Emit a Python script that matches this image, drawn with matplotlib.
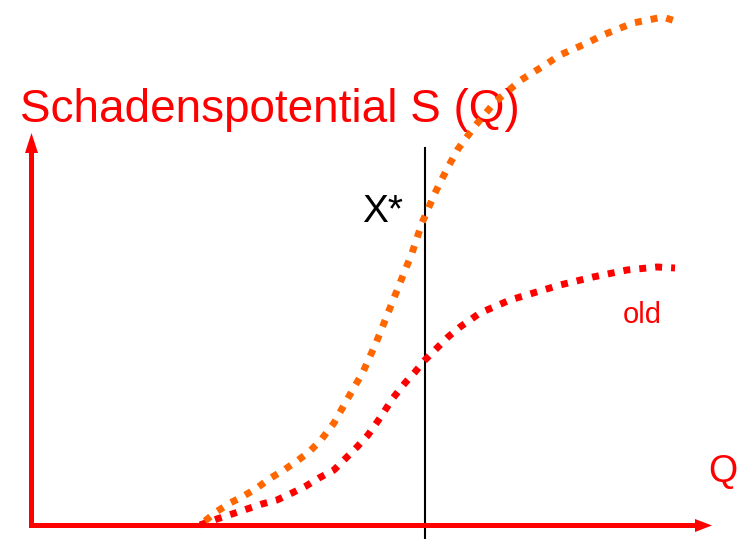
import matplotlib
matplotlib.use('Agg')
from matplotlib import pyplot as plt

plt.rcParams['font.family'] = ['Liberation Sans', 'DejaVu Sans']

### Daten (Q = horizontale Position, S = Hoehe ueber dem Bildrand unten)
q_new = [205, 216, 230, 242, 257, 269, 284, 297, 309, 321, 334, 348, 363, 376, 388, 400,
         412, 422, 435, 448, 458, 475, 495, 521, 545, 560, 585, 603, 633, 663, 678]
s_new = [18, 27, 36, 42, 51, 60, 69, 78, 87, 99, 116, 141, 167, 196, 226, 256,
         286, 316, 346, 372, 390, 413, 437, 459, 474, 484, 495, 504, 516, 522, 517]

q_old = [200, 217, 232, 247, 262, 277, 292, 306, 319, 334, 344, 357, 368, 380, 393, 405,
         415, 425, 437, 448, 460, 480, 510, 540, 560, 593, 627, 657, 675]
s_old = [14, 20, 25, 30, 35, 39, 46, 53, 61, 69, 79, 92, 104, 121, 141, 156,
         167, 179, 191, 202, 212, 226, 239, 248, 254, 262, 269, 272, 271]

x_star = 425          ### Position der senkrechten Linie X*
x_star_top = 391
axis_origin = (31.5, 13.5)
q_end = 712           ### Pfeilspitze Q-Achse
s_end = 406           ### Pfeilspitze S-Achse

RED = '#FF0000'
ORANGE = '#FF6600'

fig = plt.figure(figsize=(7.4, 5.39), dpi=100)
ax = fig.add_axes([0, 0, 1, 1])
ax.set_xlim(0, 740)
ax.set_ylim(0, 539)
ax.axis('off')

### Achsen mit Pfeilen
ax.arrow(axis_origin[0] - 2.5, axis_origin[1], q_end - axis_origin[0] + 2.5, 0,
         width=5, head_width=13, head_length=17, length_includes_head=True,
         color=RED, lw=0, zorder=2)
ax.arrow(axis_origin[0], axis_origin[1] - 2.5, 0, s_end - axis_origin[1] + 2.5,
         width=5, head_width=13, head_length=20, length_includes_head=True,
         color=RED, lw=0, zorder=2)

### senkrechte Linie X*
ax.plot([x_star, x_star], [0, x_star_top], color='black', lw=1.5, zorder=1)

### Kurven (punktiert, quadratische Punkte)
ax.plot(q_old, s_old, color=RED, lw=5, linestyle=(0, (1, 1.3)),
        dash_capstyle='butt', zorder=3)
ax.plot(q_new, s_new, color=ORANGE, lw=5, linestyle=(0, (1, 1.3)),
        dash_capstyle='butt', zorder=4)

### Beschriftungen
ax.text(20, 417, 'Schadenspotential S (Q)', color=RED, fontsize=33,
        ha='left', va='baseline')
ax.text(362, 317, 'X*', color='black', fontsize=28, ha='left', va='baseline')
ax.text(623, 216, 'old', color=RED, fontsize=21, ha='left', va='baseline')
ax.text(708, 57, 'Q', color=RED, fontsize=27, ha='left', va='baseline')

fig.savefig('out.png', dpi=100)
